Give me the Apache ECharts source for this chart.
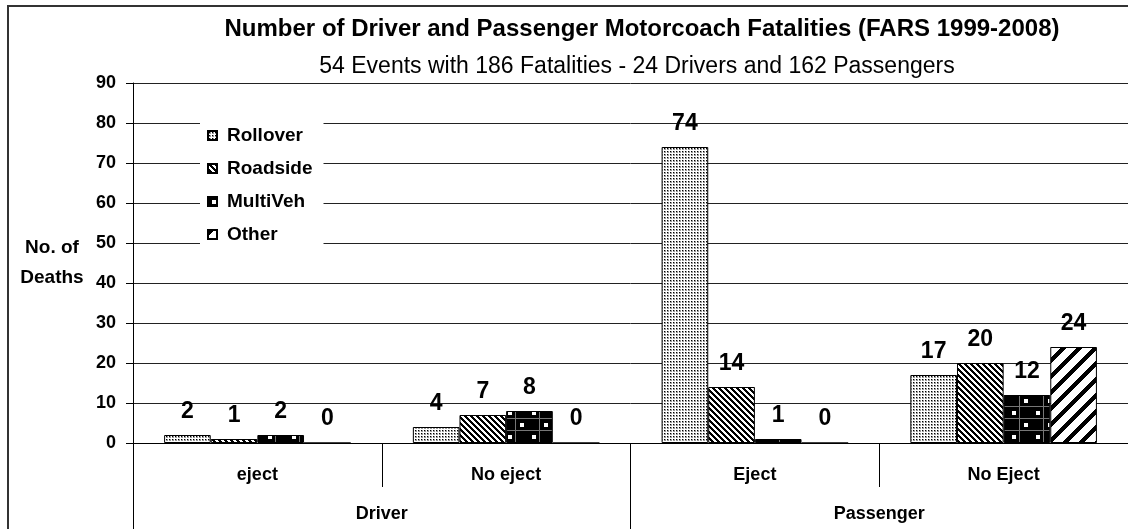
<!DOCTYPE html>
<html>
<head>
<meta charset="utf-8">
<script src="https://cdn.jsdelivr.net/npm/echarts@6/dist/echarts.min.js"></script>
<style>
  html, body { margin: 0; padding: 0; background: #fff; }
  #chart { width: 1128px; height: 529px; }
</style>
</head>
<body>
<div id="chart"></div>
<script>
const ejectCats = ['eject', 'No eject', 'Eject', 'No Eject'];
const personCats = ['Driver', 'Passenger'];
const rollover = [2, 4, 74, 17];
const roadside = [1, 7, 14, 20];
const multiVeh = [2, 8, 1, 12];
const other = [0, 0, 0, 24];
const yTicks = { min: 0, max: 90, interval: 10 };

const FONT = "'Liberation Sans', Arial, sans-serif";

// fill patterns like the old Excel hatch fills
function makePattern(w, h, pick) {
    const c = document.createElement('canvas');
    c.width = w; c.height = h;
    const ctx = c.getContext('2d');
    ctx.fillStyle = '#fff';
    ctx.fillRect(0, 0, w, h);
    for (let x = 0; x < w; x++) {
        for (let y = 0; y < h; y++) {
            const v = pick(x, y);
            if (v) {
                ctx.fillStyle = v === true ? '#000' : v;
                ctx.fillRect(x, y, 1, 1);
            }
        }
    }
    return { image: c, repeat: 'repeat' };
}

const dotFill = makePattern(3, 3, (x, y) => {
    if (x === 1 && y === 1) return true;
    if (x >= 1 && y >= 1) return '#999';
    return false;
});
const backFill = makePattern(6, 6, (x, y) => ((x - y) % 6 + 6) % 6 < 3);
const fwdFill = makePattern(16, 16, (x, y) => (x + y) % 16 < 6);
const blockFill = makePattern(24, 24, (x, y) => {
    if ((x >= 4 && x < 8 && y >= 3 && y < 7) || (x >= 16 && x < 20 && y >= 15 && y < 19)) return '#fff';
    if (x === 11 || y === 10 || y === 22) return '#777';
    return true;
});

const chart = echarts.init(document.getElementById('chart'));

function barSeries(name, data, fill) {
    return {
        name: name,
        type: 'bar',
        xAxisIndex: 0,
        data: data,
        barGap: '0%',
        barCategoryGap: '25%',
        itemStyle: { color: fill, borderColor: '#000', borderWidth: 1 },
        label: {
            show: true, position: 'top', distance: 12,
            fontFamily: FONT, fontSize: 23, fontWeight: 'bold', color: '#000'
        }
    };
}

const option = {
    animation: false,
    backgroundColor: '#fff',
    title: [
        {
            text: 'Number of Driver and Passenger Motorcoach Fatalities (FARS 1999-2008)',
            left: 642, top: 17, padding: 0, textAlign: 'center',
            textStyle: { fontFamily: FONT, fontSize: 24, fontWeight: 'bold', color: '#000' }
        },
        {
            text: '54 Events with 186 Fatalities - 24 Drivers and 162 Passengers',
            left: 637, top: 55, padding: 0, textAlign: 'center',
            textStyle: { fontFamily: FONT, fontSize: 23, fontWeight: 'normal', color: '#000' }
        }
    ],
    legend: {
        orient: 'vertical',
        left: 200, top: 121,
        padding: [5, 11, 0, 7],
        backgroundColor: '#fff',
        itemWidth: 9, itemHeight: 9, itemGap: 14,
        icon: 'rect',
        textStyle: { fontFamily: FONT, fontSize: 19, fontWeight: 'bold', color: '#000', lineHeight: 18, padding: [0, 0, 0, 5] },
        data: ['Rollover', 'Roadside', 'MultiVeh', 'Other']
    },
    grid: { left: 133, right: 0, top: 83, bottom: 86, containLabel: false },
    xAxis: [
        {
            type: 'category', data: ejectCats, position: 'bottom',
            axisLine: { show: true, lineStyle: { color: '#000', width: 1 } },
            axisTick: { show: true, interval: 0, length: 44, lineStyle: { color: '#000' } },
            axisLabel: { interval: 0, margin: 23, fontFamily: FONT, fontSize: 18, fontWeight: 'bold', color: '#000' }
        },
        {
            type: 'category', data: personCats, position: 'bottom',
            axisLine: { show: false },
            axisTick: { show: true, interval: 0, length: 100, lineStyle: { color: '#000' } },
            axisLabel: { interval: 0, margin: 62, fontFamily: FONT, fontSize: 18, fontWeight: 'bold', color: '#000' }
        }
    ],
    yAxis: {
        type: 'value', min: yTicks.min, max: yTicks.max, interval: yTicks.interval,
        name: 'No. of\nDeaths', nameLocation: 'middle', nameRotate: 0, nameGap: 81,
        nameTextStyle: { fontFamily: FONT, fontSize: 19, fontWeight: 'bold', color: '#000', lineHeight: 30, align: 'center' },
        axisLine: { show: true, lineStyle: { color: '#000' } },
        axisTick: { show: true, length: 7, lineStyle: { color: '#000' } },
        axisLabel: { margin: 17, fontFamily: FONT, fontSize: 18, fontWeight: 'bold', color: '#000' },
        splitLine: { show: true, lineStyle: { color: '#222', width: 1 } }
    },
    graphic: [
        {
            type: 'rect', z: 100, silent: true,
            shape: { x: 8, y: 6, width: 1300, height: 700 },
            style: { fill: 'none', stroke: '#333', lineWidth: 2 }
        }
    ],
    series: [
        barSeries('Rollover', rollover, dotFill),
        barSeries('Roadside', roadside, backFill),
        barSeries('MultiVeh', multiVeh, blockFill),
        barSeries('Other', other, fwdFill)
    ]
};

chart.setOption(option);
</script>
</body>
</html>
